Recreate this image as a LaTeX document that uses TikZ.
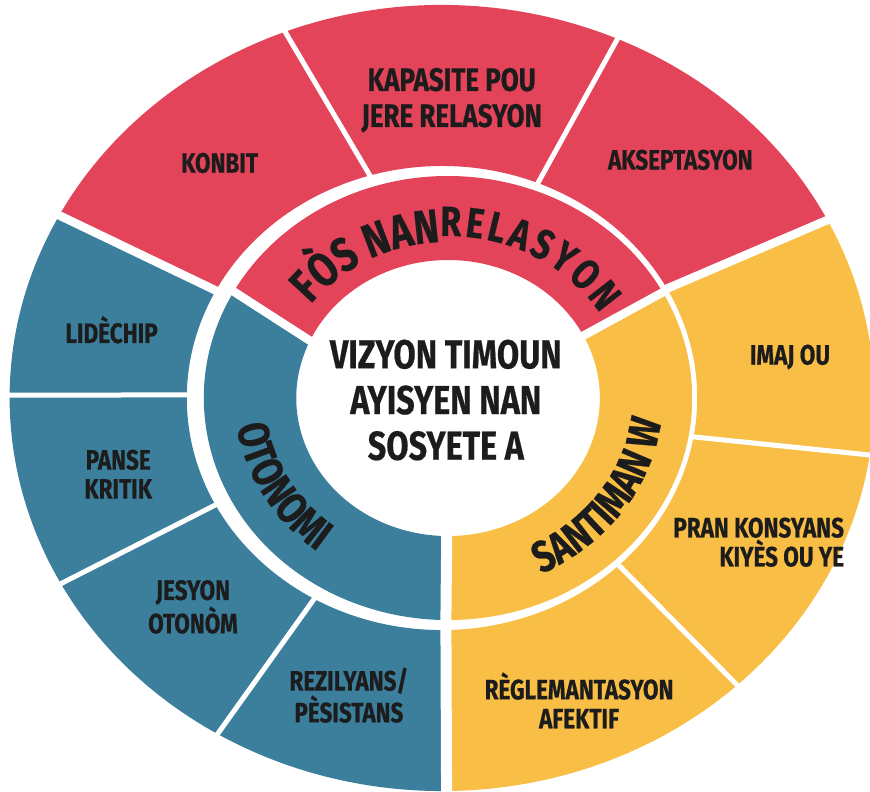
\documentclass[tikz,border=0pt]{standalone}
\usepackage{fontspec}
\setmainfont{Fira Sans}[FakeStretch=0.8, BoldFeatures={FakeBold=0.5}]
\usetikzlibrary{decorations.text}

\definecolor{wheelred}{HTML}{E4445A}
\definecolor{wheelblue}{HTML}{3B7F9D}
\definecolor{wheelyellow}{HTML}{F8BE45}
\definecolor{ink}{HTML}{1C1C1C}

\newcommand\ringbig{\bfseries\fontsize{27}{27}\selectfont}
\newcommand\ringsmall{\bfseries\fontsize{24}{24}\selectfont}
\newcommand\ringmid{\bfseries\fontsize{25}{25}\selectfont}

\begin{document}
\begin{tikzpicture}[x=0.022cm, y=0.02cm,
    lab/.style={text=ink, font=\bfseries\fontsize{16}{16.5}\selectfont, align=center},
    gap/.style={white, line width=0.1cm},
    biggap/.style={white, line width=0.17cm}]
  \useasboundingbox (-401.8,-393) rectangle (389.1,398);

  % Outer ring
  \foreach \col/\ai/\ao/\bi/\bo in {wheelred/28.2/26.9/152.4/152.3,
      wheelblue/152.4/152.3/270.9/270.6, wheelyellow/270.9/270.6/388.2/386.9}
    \fill[\col] (\ai:232) -- (\ao:393) arc[start angle=\ao, end angle=\bo, radius=393]
      -- (\bi:232) arc[start angle=\bi, end angle=\ai, radius=232] -- cycle;
  \foreach \ai/\ao in {68/66, 106.2/111.4, 179.2/179.6, 207.4/208.2, 240/238.7, 313.9/313.05, 350.3/351.7}
    \draw[gap] (\ai:228) -- (\ao:400);
  \foreach \ai/\ao in {28.2/26.9, 152.4/152.3}
    \draw[biggap] (\ai:228) -- (\ao:400);
  \draw[biggap, line width=0.22cm] (270.9:228) -- (270.6:400);

  \node[lab] (konbit) at (130.7:310) {KONBIT};
  \node[lab, font=\bfseries\fontsize{18.5}{20.5}\selectfont] (kapasite) at (88.3:298) {KAPASITE POU\\JERE RELASYON};
  \node[lab] (akseptasyon) at (47.7:322) {AKSEPTASYON};
  \node[lab] (lidechip) at (167.2:308) {LIDÈCHIP};
  \node[lab] (panse) at (194.5:304) {PANSE\\KRITIK};
  \node[lab] (jesyon) at (222.7:308) {JESYON\\OTONÒM};
  \node[lab] (rezilyans) at (254.1:309) {REZILYANS/\\PÈSISTANS};
  \node[lab] (reglemantasyon) at (292.4:327) {RÈGLEMANTASYON\\AFEKTIF};
  \node[lab, align=right] (konsyans) at (333.4:322) {PRAN KONSYANS\\KIYÈS OU YE};
  \node[lab] (imaj) at (7.4:319) {IMAJ OU};

  % Middle ring
  \begin{scope}[shift={(5.5,0)}]
    \foreach \col/\ai/\ao/\bi/\bo in {wheelred/26.7/28.5/155.95/151.2,
        wheelblue/155.95/151.2/269.5/269.5, wheelyellow/269.5/269.5/386.7/388.5}
      \fill[\col] (\ai:138) -- (\ao:222) arc[start angle=\ao, end angle=\bo, radius=222]
        -- (\bi:138) arc[start angle=\bi, end angle=\ai, radius=138] -- cycle;
    \foreach \ai/\ao in {26.7/28.5, 155.95/151.2}
      \draw[biggap] (\ai:132) -- (\ao:227);
    \draw[biggap, line width=0.22cm] (269.5:132) -- (269.5:227);

    \path[decorate, decoration={text along path, text color=ink, text align=center,
        text={|\ringbig|FÒS NAN}}] (148:156) arc[start angle=148, end angle=88, radius=156];
    \path[decorate, decoration={text along path, text color=ink, text align=fit to path,
        text={|\ringsmall|RELASYON}}] (92.5:162) arc[start angle=92.5, end angle=31.5, radius=162];
    \path[decorate, decoration={text along path, text color=ink, text align=center,
        text={|\ringmid|OTONOMI}}] (179:194) arc[start angle=179, end angle=241, radius=194];
    \path[decorate, decoration={text along path, text color=ink, text align=center,
        text={|\ringmid|SANTIMAN W}}] (284:195) arc[start angle=284, end angle=366, radius=195];

    \node[text=ink, font=\bfseries\fontsize{23}{26}\selectfont, align=center] (vizyon) at (-2,-2)
      {VIZYON TIMOUN\\AYISYEN NAN\\SOSYETE A};
  \end{scope}
\end{tikzpicture}
\end{document}
